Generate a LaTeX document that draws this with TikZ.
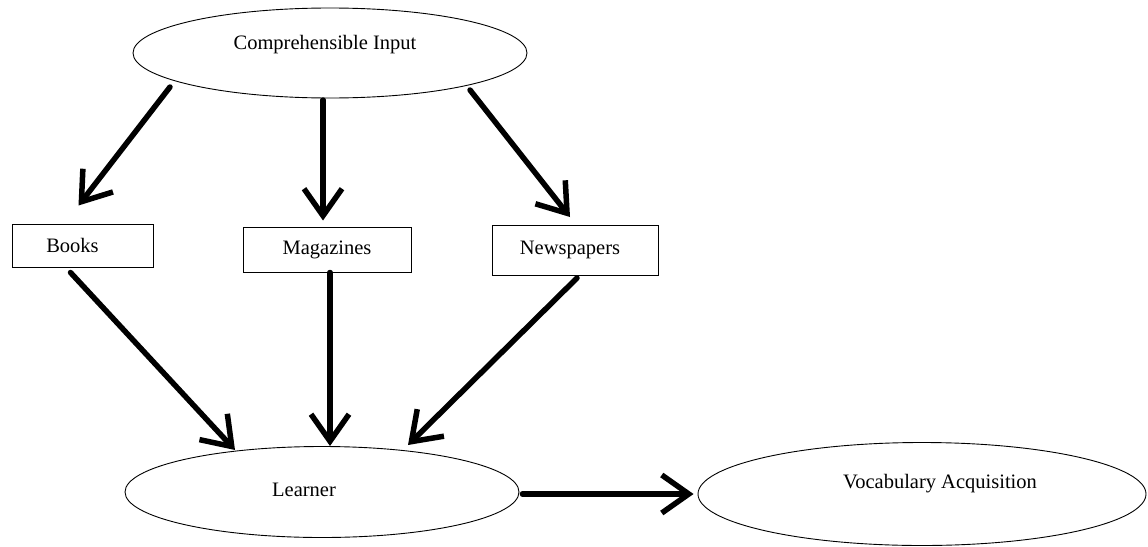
\documentclass[tikz,border=0pt]{standalone}
\usepackage{fontspec}
\setmainfont{Liberation Serif}
\usetikzlibrary{shapes.geometric,arrows.meta}
\tikzset{
  ell/.style={draw=black, line width=0.9pt, ellipse, inner sep=0pt},
  box/.style={draw=black, line width=0.9pt, rectangle, inner sep=0pt, font=\fontsize{20.5}{22}\selectfont},
  lbl/.style={font=\fontsize{20.5}{22}\selectfont},
  arr/.style={line width=5.5pt, line cap=round, line join=round, -{Straight Barb[length=27pt,width=38pt,line width=5.5pt]}}
}
\begin{document}
\begin{tikzpicture}[x=1pt,y=-1pt]
\useasboundingbox (0,0) rectangle (1148,546);
\node[ell, minimum width=394pt, minimum height=90pt,
  label={[lbl, xshift=-5pt, yshift=8pt]center:Comprehensible Input}] (ci) at (330,53) {};
\node[box, minimum width=141pt, minimum height=43pt] (books) at (82.5,245.5) {Books\kern20pt\relax};
\node[box, minimum width=168pt, minimum height=45pt] (mag) at (327,249.5) {Magazines};
\node[box, minimum width=166pt, minimum height=50pt] (news) at (575,250) {Newspapers\kern10pt\relax};
\node[ell, minimum width=394pt, minimum height=91pt,
  label={[lbl, xshift=-18pt, yshift=2pt]center:Learner}] (learner) at (322,492) {};
\node[ell, minimum width=448pt, minimum height=103pt,
  label={[lbl, xshift=18pt, yshift=10pt]center:Vocabulary Acquisition}] (vocab) at (922,494) {};
% arrows from Comprehensible Input
\draw[arr] ([xshift=-160pt,yshift=-34pt]ci.center) -- ([xshift=-4pt,yshift=40pt]books.center);
\draw[arr] ([xshift=-7pt,yshift=-47pt]ci.center) -- ([xshift=-4pt,yshift=29pt]mag.center);
\draw[arr] ([xshift=140pt,yshift=-37pt]ci.center) -- ([xshift=-5pt,yshift=33pt]news.center);
% arrows to Learner
\draw[arr] ([xshift=-12pt,yshift=-27pt]books.center) -- ([xshift=-87pt,yshift=42pt]learner.center);
\draw[arr] ([xshift=3pt,yshift=-23pt]mag.center) -- ([xshift=8pt,yshift=46pt]learner.center);
\draw[arr] ([xshift=2pt,yshift=-28pt]news.center) -- ([xshift=86pt,yshift=47pt]learner.center);
% arrow to Vocabulary Acquisition
\draw[arr] ([xshift=3pt,yshift=-2pt]learner.east) -- ([xshift=-4pt]vocab.west);
\end{tikzpicture}
\end{document}
